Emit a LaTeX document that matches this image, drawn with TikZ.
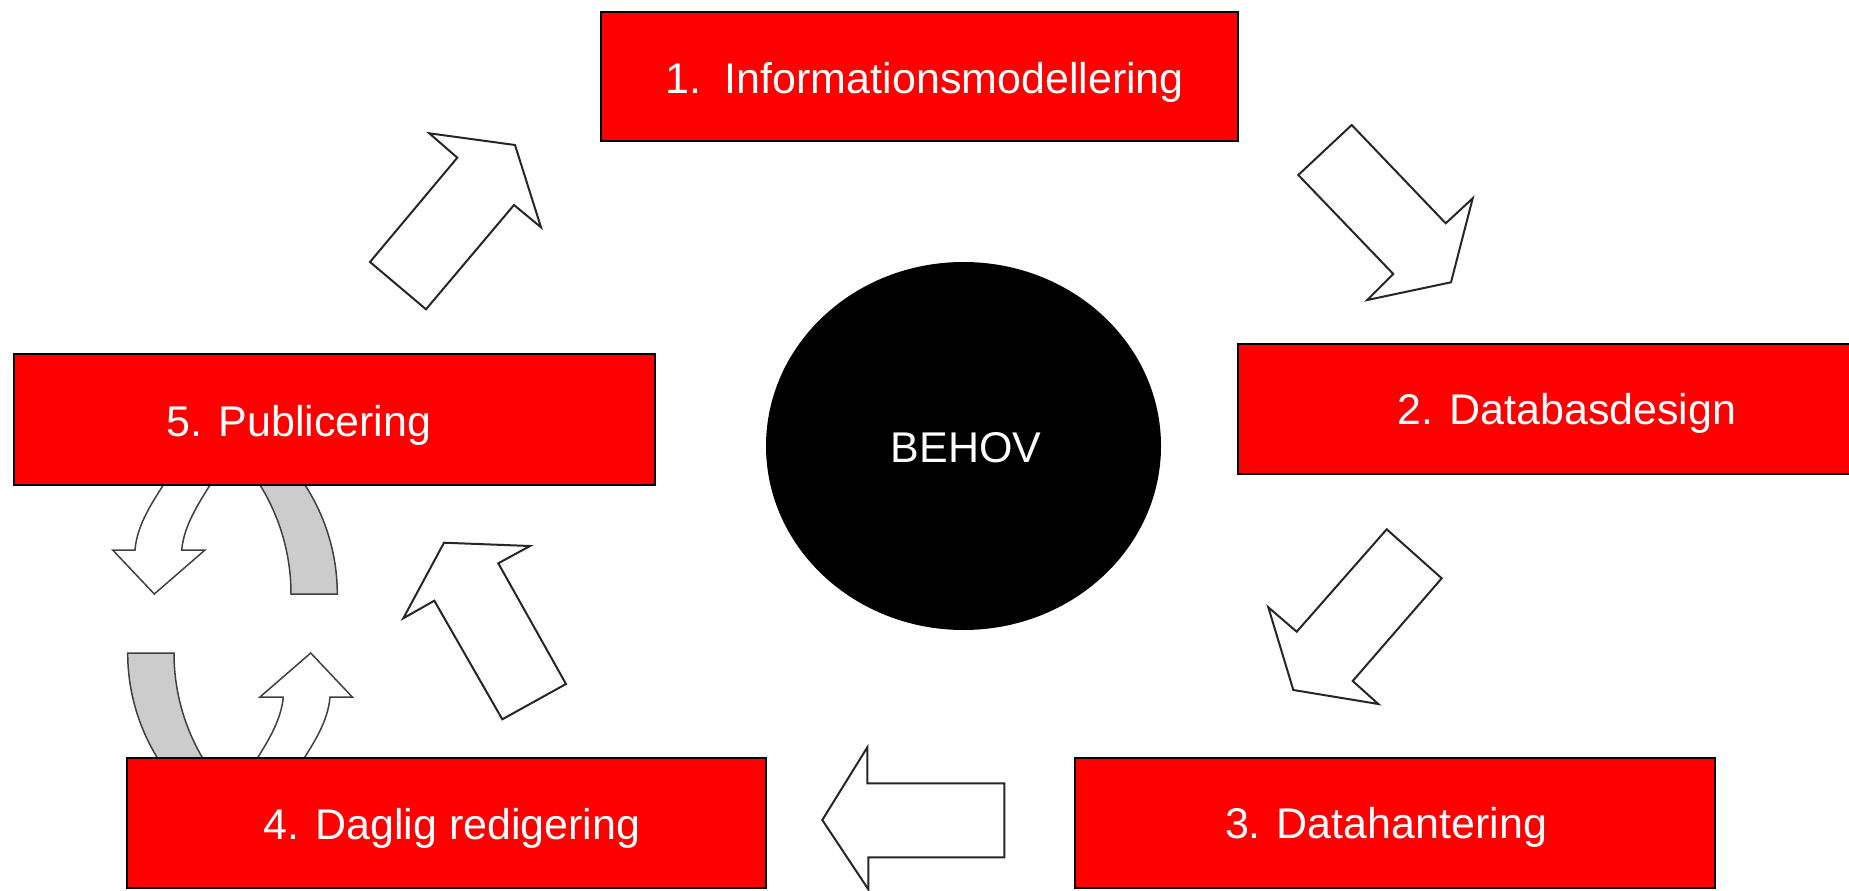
\documentclass[tikz,border=0pt]{standalone}
\usepackage{fontspec}
\setmainfont{Liberation Sans}
\usetikzlibrary{shapes.geometric}
\definecolor{boxred}{RGB}{255,0,0}
\definecolor{ribbongray}{RGB}{204,204,204}
\begin{document}
\begin{tikzpicture}[x=1pt,y=-1pt,
  stagebox/.style={draw=black, line width=1.5pt, fill=boxred, rectangle, inner sep=0pt},
  lbl/.style={text=white, font=\fontsize{43}{50}\selectfont, anchor=base, inner sep=0pt},
  blockarrow/.style={draw=black!85, line width=2pt, fill=white, line join=miter},
  curvewhite/.style={draw=black!75, line width=1.5pt, fill=white, line join=miter},
  curvegray/.style={draw=black!75, line width=1.5pt, fill=ribbongray, line join=miter}
]
\useasboundingbox (0,0) rectangle (1849,891);
\clip (0,0) rectangle (1849,891);

% curved arrows (left side), drawn below the boxes
\begin{scope}
  \draw[curvewhite] (166,478) -- (163.3,485) .. controls (152,503) and (137,525) .. (135,550)
     -- (112.7,550) -- (154.3,594) -- (205,550) -- (181.7,550)
     .. controls (184,525) and (199,503) .. (210,485) -- (213,478) -- cycle;
  \draw[curvegray] (256,478) -- (260,485) .. controls (280.3,517.7) and (291,555.5) .. (291,594)
     -- (337.3,594) .. controls (337.3,555.3) and (326.1,517.5) .. (305,485) -- (301,478) -- cycle;
\end{scope}
\begin{scope}[rotate around={180:(232.5,623.5)}]
  \draw[curvewhite] (166,478) -- (163.3,485) .. controls (152,503) and (137,525) .. (135,550)
     -- (112.7,550) -- (154.3,594) -- (205,550) -- (181.7,550)
     .. controls (184,525) and (199,503) .. (210,485) -- (213,478) -- cycle;
  \draw[curvegray] (256,478) -- (260,485) .. controls (280.3,517.7) and (291,555.5) .. (291,594)
     -- (337.3,594) .. controls (337.3,555.3) and (326.1,517.5) .. (305,485) -- (301,478) -- cycle;
\end{scope}

% stage boxes
\node[stagebox, minimum width=637pt, minimum height=129pt] (b1) at (919.5,76.5) {};
\node[stagebox, minimum width=640pt, minimum height=130pt] (b2) at (1558,409) {};
\node[stagebox, minimum width=640pt, minimum height=130pt] (b3) at (1395,823) {};
\node[stagebox, minimum width=639pt, minimum height=130pt] (b4) at (446.5,823) {};
\node[stagebox, minimum width=641pt, minimum height=131pt] (b5) at (334.5,419.5) {};

\node[lbl] (t1) at (924.5,93) {1.\ \ Informationsmodellering};
\node[lbl] (t2) at (1567,424.3) {2. Databasdesign};
\node[lbl] (t3) at (1386,838.3) {3. Datahantering};
\node[lbl] (t4) at (452,839) {4. Daglig redigering};
\node[lbl] (t5) at (299,436.7) {5. Publicering};

% centre
\node[ellipse, fill=black, minimum width=395pt, minimum height=368pt, inner sep=0pt] (behov) at (963.5,446) {};
\node[lbl] (tb) at (966,462.7) {BEHOV};

% block arrows
\draw[blockarrow] (370,262) -- (457.3,157.7) -- (429.3,133.3) -- (515,145) -- (541,227.3) -- (514,205) -- (426,309.3) -- cycle;
\draw[blockarrow] (1351.7,125) -- (1445.7,223.3) -- (1472.7,198.3) -- (1451,282.3) -- (1367.3,300) -- (1393.3,274) -- (1298.3,175) -- cycle;
\draw[blockarrow] (1386.7,529.3) -- (1441.7,578.3) -- (1352.7,681) -- (1378.3,704) -- (1293.3,690) -- (1268.3,607.3) -- (1296.7,631.7) -- cycle;
\draw[blockarrow] (822.3,820) -- (867.3,747.3) -- (867.3,783.3) -- (1004.3,783.3) -- (1004.3,857.3) -- (868.3,857.3) -- (868.3,889.3) -- cycle;
\draw[blockarrow] (444,542.7) -- (530,546) -- (498.3,563.3) -- (566,684) -- (502.3,719.3) -- (434.3,600.7) -- (403.3,618.3) -- cycle;
\end{tikzpicture}
\end{document}
